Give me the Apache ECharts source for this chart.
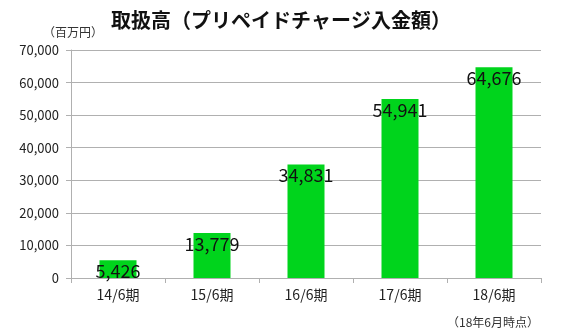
<!DOCTYPE html>
<html><head><meta charset="utf-8">
<script src="https://cdn.jsdelivr.net/npm/echarts@6/dist/echarts.min.js"></script>
<style>html,body{margin:0;padding:0;background:#fff}#c{width:562px;height:336px}</style>
</head><body><div id="c"></div>
<script>
const categories = ['14/6期','15/6期','16/6期','17/6期','18/6期'];
const values = [5426, 13779, 34831, 54941, 64676];
const titleText = '取扱高（プリペイドチャージ入金額）';
const unitText = '（百万円）';
const noteText = '（18年6月時点）';
const font = '"Noto Sans CJK JP", "Liberation Sans", sans-serif';
const chart = echarts.init(document.getElementById('c'));
chart.setOption({
  animation: false,
  textStyle: {fontFamily: font},
  title: [
    {text: titleText, left: 'center', top: 5, textStyle: {fontSize: 20, fontWeight: 'bold', color: '#111', fontFamily: font}},
    {text: unitText, left: 38, top: 21, textStyle: {fontSize: 12, fontWeight: 'normal', color: '#333', fontFamily: font}},
    {text: noteText, right: 18, top: 311, textStyle: {fontSize: 12, fontWeight: 'normal', color: '#333', fontFamily: font}}
  ],
  grid: {left: 71, right: 21, top: 50, bottom: 58},
  xAxis: {
    type: 'category', data: categories,
    axisLine: {lineStyle: {color: '#b0b0b0'}},
    axisTick: {show: true, length: 5, lineStyle: {color: '#b0b0b0'}},
    axisLabel: {fontSize: 14, color: '#222', margin: 10, fontFamily: font}
  },
  yAxis: {
    type: 'value', min: 0, max: 70000, interval: 10000,
    axisLine: {show: true, lineStyle: {color: '#b0b0b0'}},
    axisTick: {show: true, inside: false, length: 5, lineStyle: {color: '#b0b0b0'}},
    splitLine: {lineStyle: {color: '#b0b0b0'}},
    axisLabel: {fontSize: 13, color: '#222', margin: 12, fontFamily: font,
      formatter: v => v.toLocaleString('en-US')}
  },
  series: [{
    type: 'bar', data: values, barWidth: 37,
    itemStyle: {color: '#00d41c'},
    label: {show: true, position: 'insideTop', distance: 2, fontSize: 18, color: '#111', fontFamily: font,
      formatter: p => p.value.toLocaleString('en-US')}
  }]
});
</script></body></html>
